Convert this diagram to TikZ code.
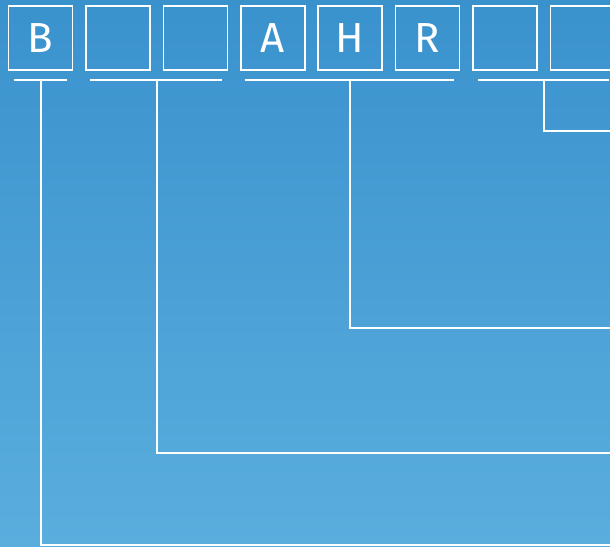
\documentclass[tikz,border=0pt]{standalone}
\usepackage{fontspec}
\setsansfont{Fira Sans}
\usetikzlibrary{positioning,calc}
\definecolor{SkyTop}{HTML}{3A92CD}
\definecolor{SkyBottom}{HTML}{5AAEDE}
\definecolor{LineWhite}{HTML}{FFFFFF}

\begin{document}
\begin{tikzpicture}[x=1pt,y=-1pt,
    cell/.style={draw=LineWhite, line width=1.6pt, minimum width=64pt, minimum height=64pt,
      inner sep=0pt, text=LineWhite, font=\sffamily\fontsize{42}{42}\selectfont},
    rail/.style={LineWhite, line width=2pt}]
        \shade[top color=SkyTop, bottom color=SkyBottom] (0,0) rectangle (610,546);
        \useasboundingbox (0,0) rectangle (610,546);
        % letter cells
        \foreach \i/\t in {1/B,2/,3/,4/A,5/H,6/R,7/,8/} {
          \node[cell] (c\i) at ({40.5+77.4*(\i-1)},38) {\t};
        }
        % group brackets
        \coordinate (m1) at ([yshift=-9pt]c1.south);
        \coordinate (m2) at ($([yshift=-9pt]c2.south)!0.5!([yshift=-9pt]c3.south)$);
        \coordinate (m3) at ([yshift=-9pt]c5.south);
        \coordinate (m4) at ($([yshift=-9pt]c7.south)!0.5!([yshift=-9pt]c8.south)$);
        \draw[rail] ([xshift=6pt,yshift=-9pt]c1.south west) -- ([xshift=-6pt,yshift=-9pt]c1.south east);
        \draw[rail] ([xshift=5pt,yshift=-9pt]c2.south west) -- ([xshift=-6pt,yshift=-9pt]c3.south east);
        \draw[rail] ([xshift=5pt,yshift=-9pt]c4.south west) -- ([xshift=-6pt,yshift=-9pt]c6.south east);
        \draw[rail] ([xshift=6pt,yshift=-9pt]c7.south west) -- ([xshift=-6pt,yshift=-9pt]c8.south east);
        % leads out to the right
        \coordinate (e1) at (612,545);
        \coordinate (e2) at (612,453);
        \coordinate (e3) at (612,328);
        \coordinate (e4) at (612,131);
        \draw[rail] (m1) |- (e1);
        \draw[rail] (m2) |- (e2);
        \draw[rail] (m3) |- (e3);
        \draw[rail] (m4) |- (e4);
      \end{tikzpicture}
\end{document}
